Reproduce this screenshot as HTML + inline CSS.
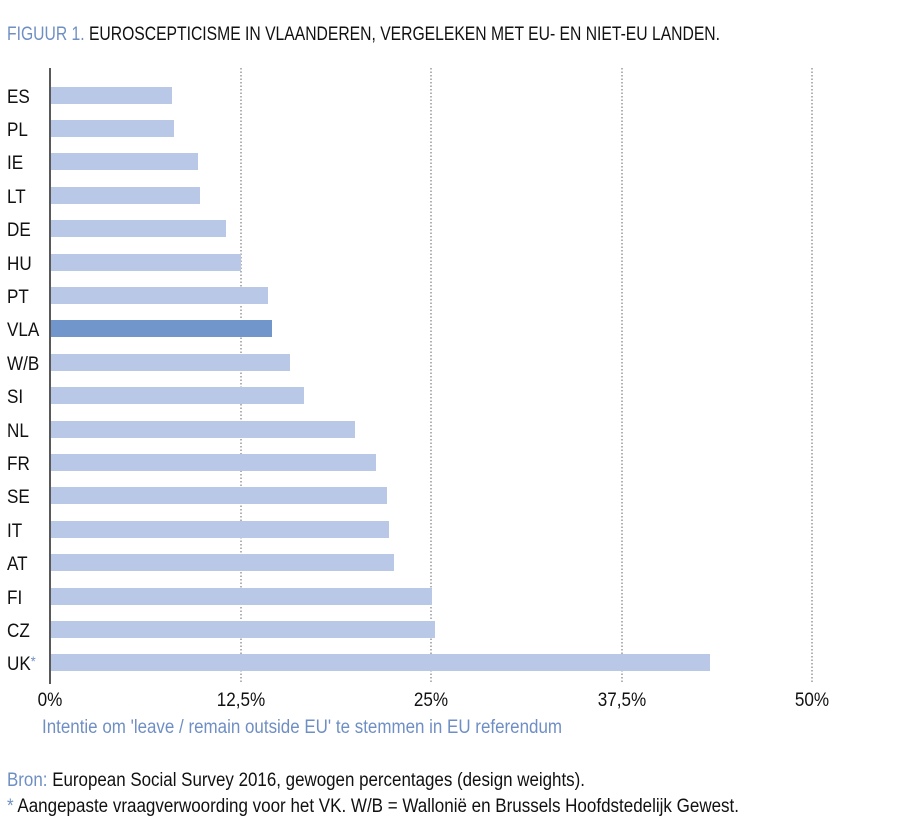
<!DOCTYPE html>
<html><head><meta charset="utf-8"><style>body{margin:0;background:#fff}svg{display:block}</style></head><body>
<svg width="900" height="835" xmlns="http://www.w3.org/2000/svg" font-family="'Liberation Sans Narrow','Liberation Sans',sans-serif">
<text x="7" y="40" font-size="19" textLength="713" lengthAdjust="spacingAndGlyphs"><tspan fill="#6f8fc4">FIGUUR 1. </tspan><tspan fill="#111">EUROSCEPTICISME IN VLAANDEREN, VERGELEKEN MET EU- EN NIET-EU LANDEN.</tspan></text>
<g stroke="#666" stroke-width="1" stroke-dasharray="1.5,2">
<line x1="241" y1="68" x2="241" y2="684"/><line x1="431" y1="68" x2="431" y2="684"/><line x1="622" y1="68" x2="622" y2="684"/><line x1="812" y1="68" x2="812" y2="684"/>
</g>
<g fill="#bac8e8">
<rect x="51" y="87" width="121" height="17"/>
<rect x="51" y="120" width="123" height="17"/>
<rect x="51" y="153" width="147" height="17"/>
<rect x="51" y="187" width="149" height="17"/>
<rect x="51" y="220" width="175" height="17"/>
<rect x="51" y="254" width="190" height="17"/>
<rect x="51" y="287" width="217" height="17"/>
<rect x="51" y="320" width="221" height="17" fill="#7096cc"/>
<rect x="51" y="354" width="239" height="17"/>
<rect x="51" y="387" width="253" height="17"/>
<rect x="51" y="421" width="304" height="17"/>
<rect x="51" y="454" width="325" height="17"/>
<rect x="51" y="487" width="336" height="17"/>
<rect x="51" y="521" width="338" height="17"/>
<rect x="51" y="554" width="343" height="17"/>
<rect x="51" y="588" width="381" height="17"/>
<rect x="51" y="621" width="384" height="17"/>
<rect x="51" y="654" width="659" height="17"/>
</g>
<line x1="50" y1="68" x2="50" y2="684" stroke="#222" stroke-width="1.5"/>
<g font-size="19" fill="#111" transform="scale(0.9,1)">
<text x="7.8" y="103">ES</text><text x="7.8" y="136">PL</text><text x="7.8" y="169">IE</text><text x="7.8" y="203">LT</text>
<text x="7.8" y="236">DE</text><text x="7.8" y="270">HU</text><text x="7.8" y="303">PT</text><text x="7.8" y="336">VLA</text>
<text x="7.8" y="370">W/B</text><text x="7.8" y="403">SI</text><text x="7.8" y="437">NL</text><text x="7.8" y="470">FR</text>
<text x="7.8" y="503">SE</text><text x="7.8" y="537">IT</text><text x="7.8" y="570">AT</text><text x="7.8" y="604">FI</text>
<text x="7.8" y="637">CZ</text><text x="7.8" y="670">UK<tspan fill="#6f8fc4" font-size="14" dy="-4">*</tspan></text>
</g>
<g font-size="19" fill="#111" text-anchor="middle" transform="scale(0.9,1)">
<text x="55.6" y="706">0%</text><text x="267.8" y="706">12,5%</text><text x="478.9" y="706">25%</text><text x="691.1" y="706">37,5%</text><text x="902.2" y="706">50%</text>
</g>
<text x="42" y="733" font-size="19" fill="#6f8fc4" textLength="520" lengthAdjust="spacingAndGlyphs">Intentie om 'leave / remain outside EU' te stemmen in EU referendum</text>
<text x="7" y="786" font-size="19" fill="#111" textLength="578" lengthAdjust="spacingAndGlyphs"><tspan fill="#6f8fc4">Bron: </tspan>European Social Survey 2016, gewogen percentages (design weights).</text>
<text x="7" y="812" font-size="19" fill="#111" textLength="732" lengthAdjust="spacingAndGlyphs"><tspan fill="#6f8fc4">* </tspan>Aangepaste vraagverwoording voor het VK. W/B = Wallonië en Brussels Hoofdstedelijk Gewest.</text>
</svg>
</body></html>
